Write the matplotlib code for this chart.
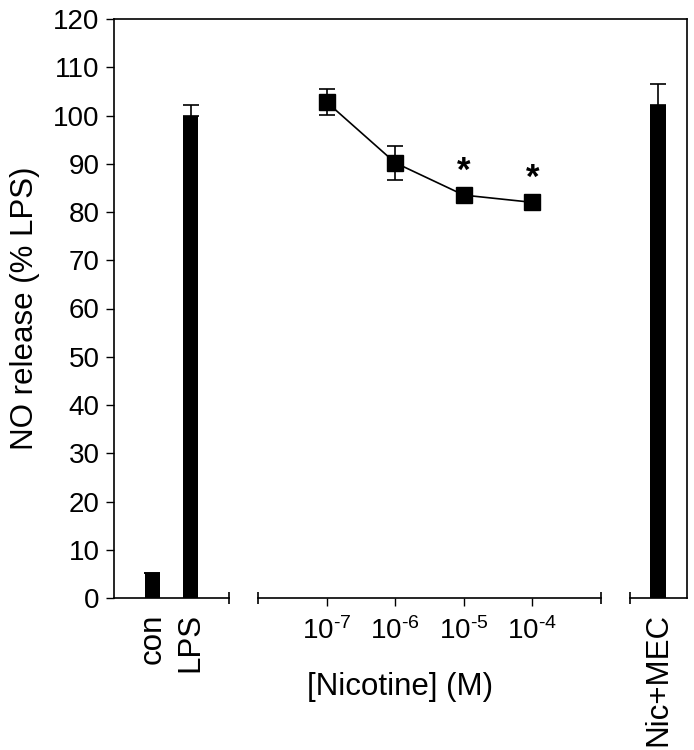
import matplotlib
matplotlib.use('Agg')
import matplotlib.pyplot as plt
import numpy as np
from matplotlib.ticker import FixedLocator, NullFormatter

plt.rcParams['font.family'] = ['Liberation Sans', 'DejaVu Sans']
plt.rcParams['mathtext.fontset'] = 'custom'
plt.rcParams['mathtext.rm'] = 'Liberation Sans'
plt.rcParams['mathtext.it'] = 'Liberation Sans:italic'
plt.rcParams['axes.unicode_minus'] = False

# data
ctrl_labels = ['con', 'LPS']
ctrl_vals = [5.2, 100.0]
ctrl_err = [0.0, 2.1]

nic_conc = [1e-7, 1e-6, 1e-5, 1e-4]
nic_vals = [102.8, 90.2, 83.5, 82.0]
nic_err = [2.6, 3.5, 1.0, 0.8]
nic_signif = [False, False, True, True]

mec_label = ['Nic+MEC']
mec_vals = [102.1]
mec_err = [4.4]

W, H = 694, 750
fig = plt.figure(figsize=(W / 100, H / 100), dpi=100)

def box(x0, x1, y0=598, y1=19):
    return [x0 / W, 1 - y0 / H, (x1 - x0) / W, (y0 - y1) / H]

fs_tick = 20
fs_lab = 22.5
ymax = 120

# main axes: y-axis plus top and right frame
ax = fig.add_axes(box(114, 687))
ax.set_ylim(0, ymax)
ax.set_xlim(0, 1)
ax.set_yticks(np.arange(0, 121, 10))
ax.tick_params(axis='y', direction='out', length=6, width=1, pad=4.5, labelsize=fs_tick)
ax.set_xticks([])
ax.spines['bottom'].set_visible(False)
for s in ['left', 'top', 'right']:
    ax.spines[s].set_linewidth(1.2)
ax.set_ylabel('NO release (% LPS)', fontsize=fs_lab, labelpad=9)

def segment(x0, x1):
    a = fig.add_axes(box(x0, x1))
    a.patch.set_alpha(0)
    for s in ['left', 'top', 'right']:
        a.spines[s].set_visible(False)
    a.spines['bottom'].set_linewidth(1.2)
    a.set_ylim(0, ymax)
    a.set_yticks([])
    return a

# segment 1: controls
a1 = segment(114, 229)
x1 = np.arange(1, len(ctrl_vals) + 1)
a1.bar(x1, ctrl_vals, width=0.4, color='black')
a1.errorbar(x1, ctrl_vals, yerr=[np.zeros(len(ctrl_err)), ctrl_err], fmt='none',
            ecolor='black', elinewidth=1.2, capsize=6, capthick=1.2)
a1.set_xlim(0, 3)
a1.set_xticks(x1)
a1.set_xticklabels(ctrl_labels, rotation=90, fontsize=fs_lab)
a1.tick_params(axis='x', which='major', length=0, pad=11)
a1.xaxis.set_minor_locator(FixedLocator([3]))
a1.tick_params(axis='x', which='minor', direction='inout', length=8, width=1.2)

# segment 2: nicotine dose response
a2 = segment(258, 601)
a2.set_xscale('log')
a2.set_xlim(1e-8, 1e-3)
a2.errorbar(nic_conc, nic_vals, yerr=nic_err, fmt='s-', color='black', ms=11,
            lw=1.2, elinewidth=1.2, capsize=6, capthick=1.2)
for c, v, sig in zip(nic_conc, nic_vals, nic_signif):
    if sig:
        a2.text(c, v + 5, '*', ha='center', va='center', fontsize=25, fontweight='bold')
a2.xaxis.set_major_locator(FixedLocator(nic_conc))
a2.set_xticklabels([r'$\mathregular{10^{\text{-}%d}}$' % abs(int(round(np.log10(c)))) for c in nic_conc],
                   fontsize=fs_tick)
a2.xaxis.set_minor_locator(FixedLocator([1e-8, 1e-3]))
a2.xaxis.set_minor_formatter(NullFormatter())
a2.tick_params(axis='x', which='major', direction='out', length=6, width=1, pad=8)
a2.tick_params(axis='x', which='minor', direction='inout', length=8, width=1.2)

# segment 3: nicotine + mecamylamine
a3 = segment(630, 687)
x3 = np.arange(1, len(mec_vals) + 1)
a3.bar(x3, mec_vals, width=0.4, color='black')
a3.errorbar(x3, mec_vals, yerr=[np.zeros(len(mec_err)), mec_err], fmt='none',
            ecolor='black', elinewidth=1.2, capsize=6, capthick=1.2)
a3.set_xlim(0.27, 1.75)
a3.set_xticks(x3)
a3.set_xticklabels(mec_label, rotation=90, fontsize=fs_lab)
a3.tick_params(axis='x', which='major', length=0, pad=11)
a3.xaxis.set_minor_locator(FixedLocator([0.27]))
a3.tick_params(axis='x', which='minor', direction='inout', length=8, width=1.2)

# x label centred on the whole axis
fig.text(400 / W, 1 - 687 / H, '[Nicotine] (M)', ha='center', va='center', fontsize=fs_lab)

plt.savefig('out.png', dpi=100)
